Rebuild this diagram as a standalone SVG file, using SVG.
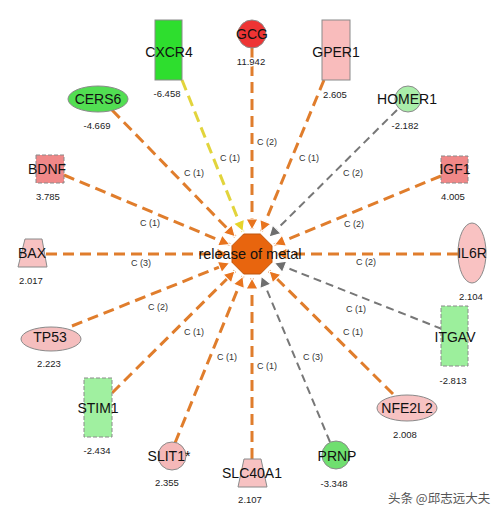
<svg xmlns="http://www.w3.org/2000/svg" width="504" height="516" viewBox="0 0 504 516">
<style>
.e{fill:none;stroke-width:3;stroke-dasharray:11 6}
.o{stroke:#e07d2c}
.y{stroke:#e2d43c}
.g{stroke:#777;stroke-width:2;stroke-dasharray:8 5}
.n{stroke:#8a8a8a;stroke-width:1}
.d{stroke:#8a8a8a;stroke-width:1;stroke-dasharray:4 2}
.lbl{font-family:"Liberation Sans",Arial,sans-serif;font-size:14px;fill:#111;text-anchor:middle}
.val{font-family:"Liberation Sans",Arial,sans-serif;font-size:9.5px;fill:#222;text-anchor:middle;stroke:#fff;stroke-width:3;paint-order:stroke}
.el{font-family:"Liberation Sans",Arial,sans-serif;font-size:9px;fill:#333;text-anchor:middle}
</style>
<defs>
<marker id="ao" viewBox="0 0 12 12" refX="11" refY="6" markerWidth="12" markerHeight="12" markerUnits="userSpaceOnUse" orient="auto" overflow="visible"><path d="M0,0 L11,6 L0,12 z" fill="#e8741e" stroke="#fff" stroke-width="1.2"/></marker>
<marker id="ag" viewBox="0 0 12 12" refX="11" refY="6" markerWidth="12" markerHeight="12" markerUnits="userSpaceOnUse" orient="auto" overflow="visible"><path d="M0,0 L11,6 L0,12 z" fill="#6e6e6e" stroke="#fff" stroke-width="1.2"/></marker>
<marker id="ay" viewBox="0 0 12 12" refX="11" refY="6" markerWidth="12" markerHeight="12" markerUnits="userSpaceOnUse" orient="auto" overflow="visible"><path d="M0,0 L11,6 L0,12 z" fill="#e6d42a" stroke="#fff" stroke-width="1.2"/></marker>
</defs>
<rect width="504" height="516" fill="#fff"/>
<g id="connectors">
<line class="e y" x1="182" y1="80" x2="243" y2="231.7" marker-end="url(#ay)"/>
<line class="e o" x1="252" y1="48" x2="252" y2="230" marker-end="url(#ao)"/>
<line class="e o" x1="324" y1="80" x2="261.2" y2="231.8" marker-end="url(#ao)"/>
<line class="g" x1="397" y1="110" x2="269" y2="237.1" marker-end="url(#ag)"/>
<line class="e o" x1="441" y1="176" x2="274.2" y2="244.8" marker-end="url(#ao)"/>
<line class="e o" x1="458" y1="254" x2="276" y2="254" marker-end="url(#ao)"/>
<line class="g" x1="442" y1="329" x2="274.3" y2="262.8" marker-end="url(#ag)"/>
<line class="e o" x1="393" y1="394" x2="269" y2="270.9" marker-end="url(#ao)"/>
<line class="g" x1="330" y1="442" x2="261.2" y2="276.2" marker-end="url(#ag)"/>
<line class="e o" x1="252" y1="459" x2="252" y2="278" marker-end="url(#ao)"/>
<line class="e o" x1="175" y1="443" x2="243" y2="276.2" marker-end="url(#ao)"/>
<line class="e o" x1="112" y1="393" x2="235" y2="270.9" marker-end="url(#ao)"/>
<line class="e o" x1="72" y1="326" x2="229.7" y2="262.9" marker-end="url(#ao)"/>
<line class="e o" x1="46" y1="254" x2="228" y2="254" marker-end="url(#ao)"/>
<line class="e o" x1="64" y1="175" x2="229.9" y2="244.7" marker-end="url(#ao)"/>
<line class="e o" x1="112" y1="110" x2="235.3" y2="236.8" marker-end="url(#ao)"/>
<text class="el" x="230" y="161">C (1)</text>
<text class="el" x="267" y="145">C (2)</text>
<text class="el" x="309" y="161">C (1)</text>
<text class="el" x="353" y="176">C (2)</text>
<text class="el" x="194" y="176">C (1)</text>
<text class="el" x="150" y="226">C (1)</text>
<text class="el" x="141" y="266">C (3)</text>
<text class="el" x="158" y="310">C (2)</text>
<text class="el" x="194" y="335">C (1)</text>
<text class="el" x="227" y="360">C (1)</text>
<text class="el" x="267" y="369">C (1)</text>
<text class="el" x="313" y="360">C (3)</text>
<text class="el" x="353" y="335">C (1)</text>
<text class="el" x="356" y="312">C (1)</text>
<text class="el" x="366" y="265">C (2)</text>
<text class="el" x="354" y="227">C (2)</text>
</g>
<g id="release-of-metal">
<polygon points="272,245.7 260.3,234 243.7,234 232,245.7 232,262.3 243.7,274 260.3,274 272,262.3" fill="#e8650e" stroke="#c0560c" stroke-width="1"/>
<text class="lbl" x="250" y="259" style="font-size:14.5px">release of metal</text>
</g>
<g id="CXCR4"><rect class="n" x="155" y="20" width="27" height="60" fill="#2ede2e"/><text class="lbl" x="169" y="57">CXCR4</text><text class="val" x="167" y="97">-6.458</text></g>
<g id="GCG"><circle class="n" cx="252" cy="34" r="14" fill="#ee3434"/><text class="lbl" x="252" y="39">GCG</text><text class="val" x="251" y="65">11.942</text></g>
<g id="GPER1"><rect class="n" x="322" y="20" width="28" height="60" fill="#f9bcbc"/><text class="lbl" x="336" y="57">GPER1</text><text class="val" x="335" y="98">2.605</text></g>
<g id="HOMER1"><circle class="n" cx="408" cy="99" r="13" fill="#aaeeaa"/><text class="lbl" x="407" y="104">HOMER1</text><text class="val" x="405" y="129">-2.182</text></g>
<g id="IGF1"><rect class="d" x="441" y="156" width="27" height="27" fill="#f08888"/><text class="lbl" x="455" y="174">IGF1</text><text class="val" x="453" y="200">4.005</text></g>
<g id="IL6R"><ellipse class="n" cx="472" cy="253" rx="14" ry="30" fill="#f9c2c2"/><text class="lbl" x="472" y="258">IL6R</text><text class="val" x="471" y="300">2.104</text></g>
<g id="ITGAV"><rect class="d" x="441" y="306" width="27" height="60" fill="#9cef9c"/><text class="lbl" x="455" y="342">ITGAV</text><text class="val" x="453" y="384">-2.813</text></g>
<g id="NFE2L2"><ellipse class="n" cx="407" cy="408" rx="30" ry="13" fill="#f7c2c2"/><text class="lbl" x="407" y="413">NFE2L2</text><text class="val" x="405" y="438">2.008</text></g>
<g id="PRNP"><circle class="n" cx="336" cy="455" r="14" fill="#6fdf6f"/><text class="lbl" x="337" y="461">PRNP</text><text class="val" x="334" y="487">-3.348</text></g>
<g id="SLC40A1"><polygon class="n" points="244,459 261,459 267,487 238,487" fill="#f7c2c2"/><text class="lbl" x="252" y="478">SLC40A1</text><text class="val" x="250" y="503">2.107</text></g>
<g id="SLIT1"><circle class="n" cx="172" cy="456" r="14" fill="#f5b8b8"/><text class="lbl" x="169" y="461">SLIT1*</text><text class="val" x="167" y="486">2.355</text></g>
<g id="STIM1"><rect class="d" x="84" y="378" width="28" height="59" fill="#a0f0a0"/><text class="lbl" x="98" y="413">STIM1</text><text class="val" x="97" y="454">-2.434</text></g>
<g id="TP53"><ellipse class="n" cx="51" cy="339" rx="30" ry="12" fill="#f5bebe"/><text class="lbl" x="50" y="342">TP53</text><text class="val" x="49" y="367">2.223</text></g>
<g id="BAX"><polygon class="n" points="25,239 42,239 47,267 18,267" fill="#f7c2c2"/><text class="lbl" x="32" y="258">BAX</text><text class="val" x="31" y="284">2.017</text></g>
<g id="BDNF"><rect class="d" x="36" y="155" width="28" height="28" fill="#f08888"/><text class="lbl" x="47" y="174">BDNF</text><text class="val" x="48" y="200">3.785</text></g>
<g id="CERS6"><ellipse class="n" cx="98" cy="99" rx="30" ry="13" fill="#52de52"/><text class="lbl" x="98" y="104">CERS6</text><text class="val" x="97" y="129">-4.669</text></g>
<text x="388" y="503" style="font-family:'Noto Sans CJK SC',sans-serif;font-size:12.5px;fill:#555">头条 @邱志远大夫</text>
</svg>
